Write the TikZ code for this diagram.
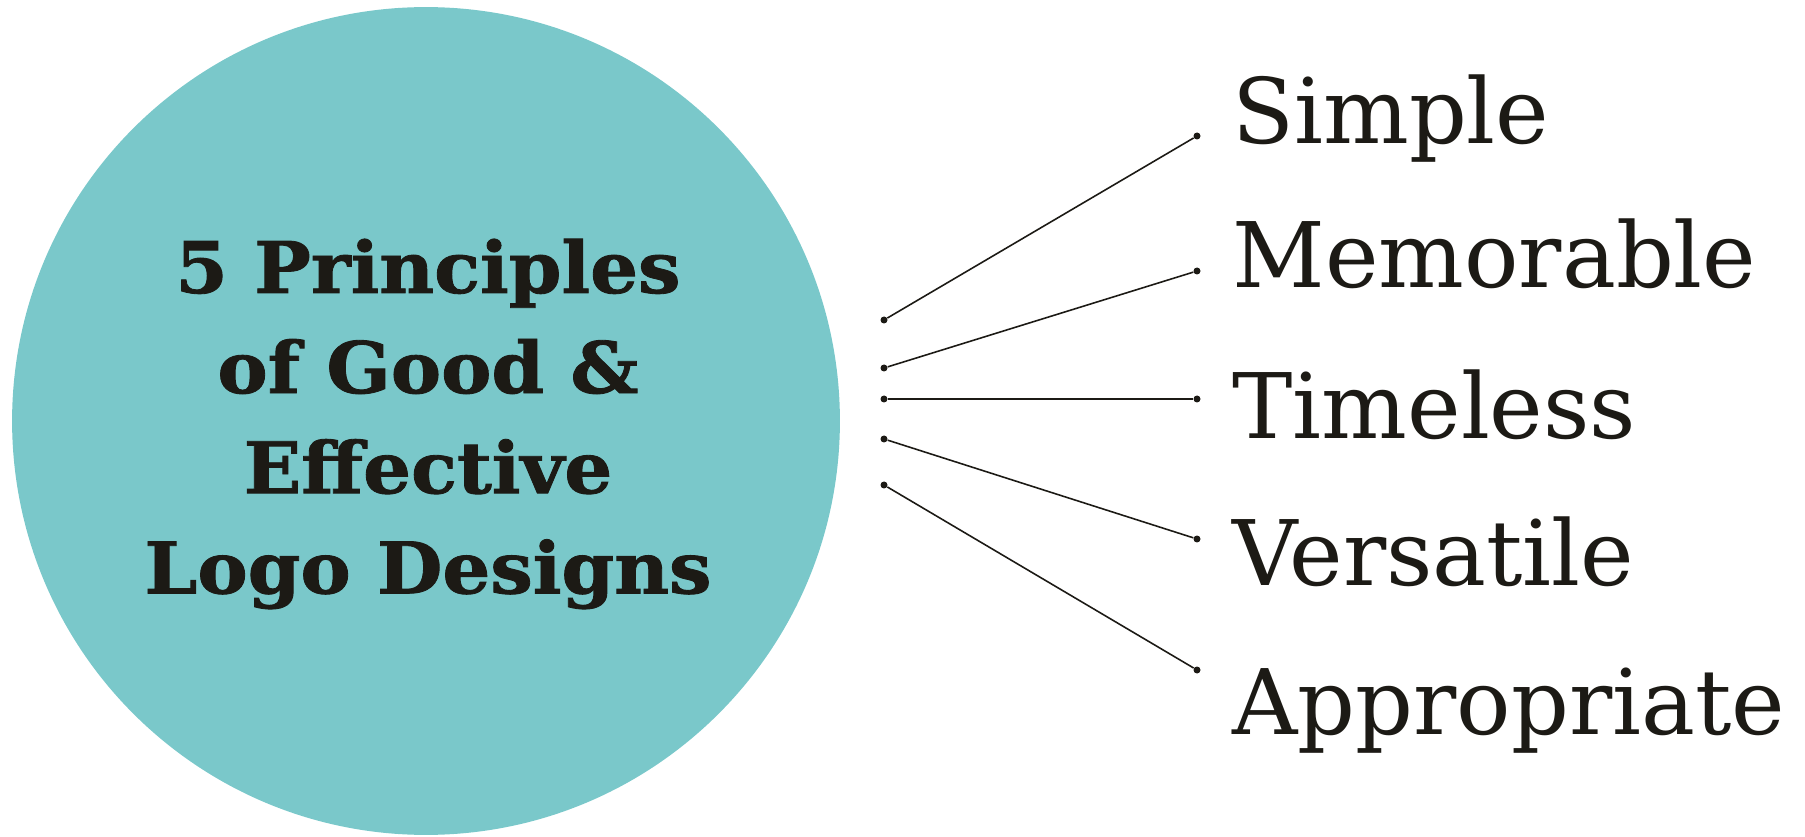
\documentclass[tikz,border=0pt]{standalone}
\usepackage{fontspec}
\setmainfont{DejaVu Serif}
\newfontfamily\titlefont[FakeStretch=1.06,FakeBold=1.2]{DejaVu Serif Bold}
\definecolor{circleteal}{HTML}{7AC8CA}
\definecolor{inkblack}{HTML}{1C1A15}

\begin{document}
\begin{tikzpicture}[
  x=0.02cm, y=-0.02cm,
  every node/.style={text=inkblack},
  hub/.style={circle, fill=circleteal, minimum size=16.56cm, inner sep=0pt},
  title/.style={align=center, inner sep=0pt, font=\titlefont\fontsize{40.5}{57}\selectfont},
  joint/.style={circle, fill=inkblack, minimum size=1.4mm, inner sep=0pt},
  principle/.style={anchor=base west, inner sep=0pt, font=\fontsize{51.5}{60}\selectfont},
  edge/.style={draw=inkblack, line width=0.9pt},
]
\useasboundingbox (0,0) rectangle (1805,837);

% ---- central circle with the title ----
\node[hub] (hub) at (426,421) {};
\node[title] (heading) at (428,424) {5 Principles\\ of Good \&\\ Effective\\ Logo Designs};

% ---- start points beside the circle ----
\node[joint] (s1) at (884,320) {};
\node[joint] (s2) at (884,368) {};
\node[joint] (s3) at (884,399) {};
\node[joint] (s4) at (884,439) {};
\node[joint] (s5) at (884,485) {};

% ---- end points in front of the words ----
\node[joint] (e1) at (1197,136) {};
\node[joint] (e2) at (1197,271) {};
\node[joint] (e3) at (1197,399) {};
\node[joint] (e4) at (1197,539) {};
\node[joint] (e5) at (1197,670) {};

% ---- the five principles ----
\node[principle] (tSimple)      at (1232,144) {Simple};
\node[principle] (tMemorable)   at (1232,288) {Memorable};
\node[principle] (tTimeless)    at (1232,439) {Timeless};
\node[principle] (tVersatile)   at (1232,585) {Versatile};
\node[principle] (tAppropriate) at (1232,734) {Appropriate};

% ---- connectors ----
\draw[edge] (s1) -- (e1);
\draw[edge] (s2) -- (e2);
\draw[edge] (s3) -- (e3);
\draw[edge] (s4) -- (e4);
\draw[edge] (s5) -- (e5);

\end{tikzpicture}
\end{document}
